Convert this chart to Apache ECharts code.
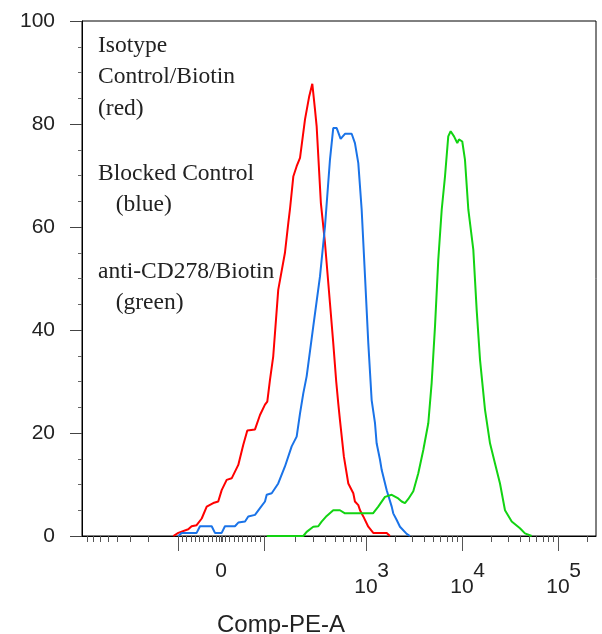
<!DOCTYPE html>
<html>
<head>
<meta charset="utf-8">
<script src="https://cdn.jsdelivr.net/npm/echarts@6.0.0/dist/echarts.min.js"></script>
<style>
  html, body { margin: 0; padding: 0; background: #fff; }
  #chart-container { width: 602px; height: 634px; }
</style>
</head>
<body>
<div id="chart-container"></div>
<script>
// x is in display units of the biexponential scale (10^3 -> 3, 10^4 -> 4 ...), y is count
var redCurve = [
  [0.993, 0], [1.045, 0.6], [1.149, 1.3], [1.184, 1.9], [1.236, 2.1], [1.289, 3.4], [1.341, 5.7],
  [1.409, 6.4], [1.461, 6.7], [1.497, 8.9], [1.549, 10.9], [1.601, 11.2], [1.670, 13.8], [1.722, 17.7],
  [1.764, 20.5], [1.844, 20.7], [1.896, 23.5], [1.948, 25.5], [1.972, 26.1], [2.0, 30.3], [2.034, 34.9],
  [2.086, 47.8], [2.156, 55.0], [2.191, 60.8], [2.208, 63.4], [2.243, 69.8], [2.278, 71.8], [2.313, 73.4],
  [2.365, 80.9], [2.409, 85.4], [2.441, 87.8], [2.469, 82.8], [2.486, 79.6], [2.530, 64.7], [2.573, 56.9],
  [2.625, 45.2], [2.659, 37.5], [2.690, 30.0], [2.711, 25.8], [2.729, 22.5], [2.770, 15.4], [2.816, 10.2],
  [2.868, 8.3], [2.885, 6.7], [2.920, 6.0], [2.938, 5.0], [2.972, 3.8], [3.024, 1.8], [3.076, 0.6],
  [3.216, 0.6], [3.25, 0]
];
var blueCurve = [
  [1.045, 0], [1.080, 0.6], [1.236, 0.6], [1.271, 1.9], [1.393, 1.9], [1.427, 0.6], [1.497, 0.6],
  [1.531, 1.9], [1.635, 1.9], [1.670, 2.6], [1.740, 2.8], [1.774, 3.8], [1.844, 4.1], [1.896, 5.4],
  [1.948, 6.7], [1.966, 8.0], [2.018, 8.3], [2.086, 10.2], [2.156, 13.5], [2.226, 17.4], [2.278, 19.3],
  [2.313, 23.8], [2.347, 27.7], [2.382, 31.0], [2.451, 40.7], [2.521, 50.4], [2.573, 60.1], [2.625, 73.1],
  [2.659, 79.2], [2.695, 79.2], [2.736, 77.1], [2.781, 78.1], [2.851, 78.1], [2.885, 76.3], [2.920, 72.4],
  [2.955, 63.4], [2.990, 50.4], [3.024, 37.5], [3.059, 26.4], [3.094, 21.9], [3.111, 18.0], [3.146, 14.8],
  [3.164, 12.8], [3.216, 8.9], [3.268, 5.7], [3.284, 4.4], [3.320, 3.1], [3.354, 1.8], [3.424, 0.4],
  [3.458, 0]
];
var greenCurve = [
  [1.966, 0], [2.347, 0], [2.382, 0.8], [2.451, 1.8], [2.503, 1.9], [2.538, 2.8], [2.591, 3.9],
  [2.659, 5.0], [2.729, 5.0], [2.781, 4.4], [3.073, 4.4], [3.128, 5.7], [3.198, 7.6], [3.268, 8.0],
  [3.284, 8.1], [3.336, 7.3], [3.372, 6.7], [3.406, 6.4], [3.441, 7.2], [3.493, 8.7], [3.545, 12.2],
  [3.597, 16.7], [3.649, 21.9], [3.684, 29.7], [3.719, 40.7], [3.753, 53.6], [3.789, 63.4], [3.823, 69.8],
  [3.857, 77.6], [3.882, 78.6], [3.917, 77.6], [3.951, 76.3], [3.969, 77.0], [4.003, 76.6], [4.031, 73.1],
  [4.066, 63.4], [4.118, 55.6], [4.153, 43.9], [4.188, 34.2], [4.240, 24.5], [4.292, 18.0], [4.344, 14.1],
  [4.396, 10.2], [4.448, 5.0], [4.518, 2.8], [4.604, 1.5], [4.656, 0.5], [4.726, 0]
];

// tick values in raw units
var decadeValues = [1000, 10000, 100000];
var exponentTexts = ['3', '4', '5'];
var majorValues = [-100, 100, 1000, 10000, 100000];

var legendLines = [
  'Isotype', 'Control/Biotin', '(red)',
  'Blocked Control', '   (blue)',
  'anti-CD278/Biotin', '   (green)'
];

var X_MIN = 0.042, X_MAX = 5.396;
var SUP_SHIFT = 0.177; // exponent sits right of the "10"

// raw value -> display position (approximate biexponential)
function disp(v) {
  var ZERO = 1.49, LIN = 0.45;
  var a = Math.abs(v), s = v < 0 ? -1 : 1;
  var off;
  if (a <= 100) off = LIN * a / 100;
  else if (s < 0) off = LIN + 1.04 * (Math.log10(a) - 2);
  else if (a <= 1000) off = LIN + 1.06 * (Math.log10(a) - 2);
  else off = LIN + 1.06 + (Math.log10(a) - 3);
  return ZERO + s * off;
}

var minorValues = [];
for (var k = 2; k <= 8; k++) minorValues.push(-k * 100);
for (var j = -9; j <= 9; j++) { if (j !== 0) minorValues.push(j * 10); }
minorValues.push(-3, 0, 3);
[100, 1000, 10000, 100000].forEach(function (d) {
  for (var m = 2; m <= 9; m++) minorValues.push(m * d);
});

var minorPos = minorValues.map(disp).filter(function (p) { return p > X_MIN && p < X_MAX; });
var majorPos = majorValues.map(disp);
var decadePos = decadeValues.map(disp);
var zeroPos = disp(0);
var supPos = decadePos.map(function (p) { return p + SUP_SHIFT; });

function near(a, b) { return Math.abs(a - b) < 1e-6; }

var FONT = '"Liberation Sans", Arial, sans-serif';

var legendTop = [45.5, 77.2, 108.7, 173.9, 205.2, 271.5, 303];
var graphics = legendLines.map(function (t, i) {
  return {
    type: 'text', x: 98, y: legendTop[i],
    style: { text: t, font: '23.5px "Liberation Serif", serif', fill: '#222', verticalAlign: 'middle' }
  };
});
graphics.push({
  type: 'text', x: 217, y: 625,
  style: { text: 'Comp-PE-A', font: '24px ' + FONT, fill: '#222', verticalAlign: 'middle' }
});

var dom = document.getElementById('chart-container');
var myChart = echarts.init(dom);
var option = {
  animation: false,
  grid: {
    left: 82, right: 6, top: 21, bottom: 98,
    show: true, borderColor: '#000', borderWidth: 1
  },
  xAxis: [
    {
      type: 'value', min: X_MIN, max: X_MAX, position: 'bottom',
      splitLine: { show: false },
      axisLine: { show: true, lineStyle: { color: '#000', width: 1 } },
      axisTick: { show: true, customValues: majorPos, length: 15, lineStyle: { color: '#555' } },
      axisLabel: {
        customValues: decadePos, margin: 41, color: '#222', fontSize: 21, fontFamily: FONT,
        formatter: function () { return '10'; }
      }
    },
    {
      type: 'value', min: X_MIN, max: X_MAX, position: 'bottom',
      splitLine: { show: false },
      axisLine: { show: false },
      axisTick: { show: true, customValues: minorPos, length: 6, lineStyle: { color: '#555' } },
      axisLabel: {
        customValues: [zeroPos].concat(supPos), margin: 25, color: '#222', fontSize: 21, fontFamily: FONT,
        formatter: function (val) {
          if (near(val, zeroPos)) return '0';
          for (var i = 0; i < supPos.length; i++) {
            if (near(val, supPos[i])) return exponentTexts[i];
          }
          return '';
        }
      }
    }
  ],
  yAxis: {
    type: 'value', min: 0, max: 100, interval: 20,
    splitLine: { show: false },
    axisLine: { show: true, lineStyle: { color: '#000', width: 1 } },
    axisTick: { show: true, length: 12, lineStyle: { color: '#444' } },
    minorTick: { show: true, splitNumber: 4, length: 4, lineStyle: { color: '#666' } },
    axisLabel: { margin: 27, fontSize: 21, fontFamily: FONT, color: '#222' }
  },
  graphic: graphics,
  series: [
    {
      name: 'red', type: 'line', xAxisIndex: 0, data: redCurve, symbol: 'none',
      lineStyle: { color: '#ff0000', width: 2 }, itemStyle: { color: '#ff0000' }
    },
    {
      name: 'blue', type: 'line', xAxisIndex: 0, data: blueCurve, symbol: 'none',
      lineStyle: { color: '#1a73e8', width: 2 }, itemStyle: { color: '#1a73e8' }
    },
    {
      name: 'green', type: 'line', xAxisIndex: 0, data: greenCurve, symbol: 'none',
      lineStyle: { color: '#12d312', width: 2 }, itemStyle: { color: '#12d312' }
    }
  ]
};
myChart.setOption(option);
</script>
</body>
</html>
